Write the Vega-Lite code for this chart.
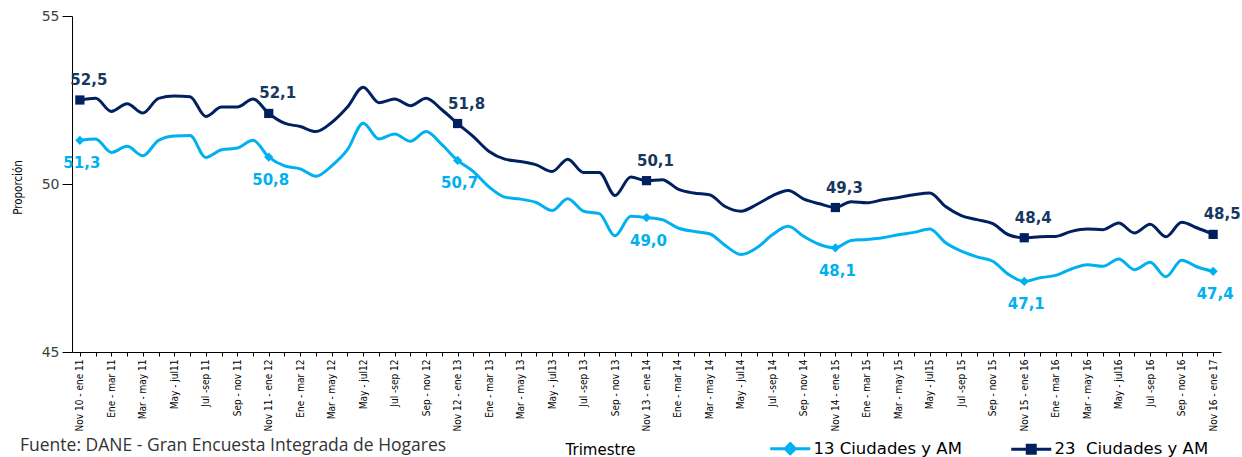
{
  "$schema": "https://vega.github.io/schema/vega-lite/v6.json",
  "width": 1149,
  "height": 336,
  "autosize": "none",
  "padding": {"left": 72, "top": 16, "right": 21, "bottom": 105},
  "background": "white",
  "config": {
    "view": {"stroke": null},
    "locale": {"number": {"decimal": ",", "thousands": ".", "grouping": [3], "currency": ["$", ""]}}
  },
  "title": {
    "text": "Fuente: DANE - Gran Encuesta Integrada de Hogares",
    "orient": "bottom",
    "anchor": "start",
    "frame": "group",
    "dx": -52,
    "offset": -23,
    "font": "Open Sans",
    "fontSize": 17.5,
    "fontWeight": "normal",
    "color": "#333333"
  },
  "data": {
    "values": [
      {"periodo": "Nov 10 - ene 11", "13 Ciudades y AM": 51.3, "23  Ciudades y AM": 52.5},
      {"periodo": "Dic 10 - feb 11", "13 Ciudades y AM": 51.34, "23  Ciudades y AM": 52.55},
      {"periodo": "Ene - mar 11", "13 Ciudades y AM": 50.94, "23  Ciudades y AM": 52.16},
      {"periodo": "Feb - abr 11", "13 Ciudades y AM": 51.12, "23  Ciudades y AM": 52.39},
      {"periodo": "Mar - may 11", "13 Ciudades y AM": 50.84, "23  Ciudades y AM": 52.11},
      {"periodo": "Abr - jun 11", "13 Ciudades y AM": 51.3, "23  Ciudades y AM": 52.55},
      {"periodo": "May - jul11", "13 Ciudades y AM": 51.43, "23  Ciudades y AM": 52.62},
      {"periodo": "Jun - ago 11", "13 Ciudades y AM": 51.44, "23  Ciudades y AM": 52.6},
      {"periodo": "Jul -sep 11", "13 Ciudades y AM": 50.79, "23  Ciudades y AM": 52.01},
      {"periodo": "Ago - oct 11", "13 Ciudades y AM": 51.02, "23  Ciudades y AM": 52.29},
      {"periodo": "Sep - nov 11", "13 Ciudades y AM": 51.07, "23  Ciudades y AM": 52.29},
      {"periodo": "Oct - dic 11", "13 Ciudades y AM": 51.3, "23  Ciudades y AM": 52.53},
      {"periodo": "Nov 11 - ene 12", "13 Ciudades y AM": 50.8, "23  Ciudades y AM": 52.1},
      {"periodo": "Dic 11 - feb 12", "13 Ciudades y AM": 50.54, "23  Ciudades y AM": 51.81},
      {"periodo": "Ene - mar 12", "13 Ciudades y AM": 50.45, "23  Ciudades y AM": 51.71},
      {"periodo": "Feb - abr 12", "13 Ciudades y AM": 50.23, "23  Ciudades y AM": 51.56},
      {"periodo": "Mar - may 12", "13 Ciudades y AM": 50.54, "23  Ciudades y AM": 51.83},
      {"periodo": "Abr - jun 12", "13 Ciudades y AM": 51.02, "23  Ciudades y AM": 52.29},
      {"periodo": "May - jul12", "13 Ciudades y AM": 51.81, "23  Ciudades y AM": 52.88},
      {"periodo": "Jun - ago 12", "13 Ciudades y AM": 51.34, "23  Ciudades y AM": 52.42},
      {"periodo": "Jul -sep 12", "13 Ciudades y AM": 51.49, "23  Ciudades y AM": 52.53},
      {"periodo": "Ago - oct 12", "13 Ciudades y AM": 51.27, "23  Ciudades y AM": 52.33},
      {"periodo": "Sep - nov 12", "13 Ciudades y AM": 51.56, "23  Ciudades y AM": 52.55},
      {"periodo": "Oct - dic 12", "13 Ciudades y AM": 51.17, "23  Ciudades y AM": 52.21},
      {"periodo": "Nov 12 - ene 13", "13 Ciudades y AM": 50.7, "23  Ciudades y AM": 51.8},
      {"periodo": "Dic 12 - feb 13", "13 Ciudades y AM": 50.37, "23  Ciudades y AM": 51.41},
      {"periodo": "Ene - mar 13", "13 Ciudades y AM": 49.91, "23  Ciudades y AM": 50.97},
      {"periodo": "Feb - abr 13", "13 Ciudades y AM": 49.61, "23  Ciudades y AM": 50.74},
      {"periodo": "Mar - may 13", "13 Ciudades y AM": 49.55, "23  Ciudades y AM": 50.67},
      {"periodo": "Abr - jun 13", "13 Ciudades y AM": 49.45, "23  Ciudades y AM": 50.57},
      {"periodo": "May - jul13", "13 Ciudades y AM": 49.21, "23  Ciudades y AM": 50.37},
      {"periodo": "Jun - ago 13", "13 Ciudades y AM": 49.56, "23  Ciudades y AM": 50.74},
      {"periodo": "Jul -sep 13", "13 Ciudades y AM": 49.19, "23  Ciudades y AM": 50.34},
      {"periodo": "Ago - oct 13", "13 Ciudades y AM": 49.12, "23  Ciudades y AM": 50.34},
      {"periodo": "Sep - nov 13", "13 Ciudades y AM": 48.46, "23  Ciudades y AM": 49.66},
      {"periodo": "Oct - dic 13", "13 Ciudades y AM": 49.04, "23  Ciudades y AM": 50.21},
      {"periodo": "Nov 13 - ene 14", "13 Ciudades y AM": 49.0, "23  Ciudades y AM": 50.1},
      {"periodo": "Dic 13 - feb 14", "13 Ciudades y AM": 48.94, "23  Ciudades y AM": 50.13},
      {"periodo": "Ene - mar 14", "13 Ciudades y AM": 48.69, "23  Ciudades y AM": 49.85},
      {"periodo": "Feb - abr 14", "13 Ciudades y AM": 48.59, "23  Ciudades y AM": 49.73},
      {"periodo": "Mar - may 14", "13 Ciudades y AM": 48.52, "23  Ciudades y AM": 49.68},
      {"periodo": "Abr - jun 14", "13 Ciudades y AM": 48.17, "23  Ciudades y AM": 49.33},
      {"periodo": "May - jul14", "13 Ciudades y AM": 47.9, "23  Ciudades y AM": 49.19},
      {"periodo": "Jun - ago 14", "13 Ciudades y AM": 48.1, "23  Ciudades y AM": 49.39},
      {"periodo": "Jul -sep 14", "13 Ciudades y AM": 48.49, "23  Ciudades y AM": 49.65},
      {"periodo": "Ago - oct 14", "13 Ciudades y AM": 48.74, "23  Ciudades y AM": 49.81},
      {"periodo": "Sep - nov 14", "13 Ciudades y AM": 48.44, "23  Ciudades y AM": 49.55},
      {"periodo": "Oct - dic 14", "13 Ciudades y AM": 48.2, "23  Ciudades y AM": 49.41},
      {"periodo": "Nov 14 - ene 15", "13 Ciudades y AM": 48.1, "23  Ciudades y AM": 49.3},
      {"periodo": "Dic 14 - feb 15", "13 Ciudades y AM": 48.32, "23  Ciudades y AM": 49.47},
      {"periodo": "Ene - mar 15", "13 Ciudades y AM": 48.35, "23  Ciudades y AM": 49.44},
      {"periodo": "Feb - abr 15", "13 Ciudades y AM": 48.4, "23  Ciudades y AM": 49.53},
      {"periodo": "Mar - may 15", "13 Ciudades y AM": 48.49, "23  Ciudades y AM": 49.6},
      {"periodo": "Abr - jun 15", "13 Ciudades y AM": 48.56, "23  Ciudades y AM": 49.68},
      {"periodo": "May - jul15", "13 Ciudades y AM": 48.66, "23  Ciudades y AM": 49.73},
      {"periodo": "Jun - ago 15", "13 Ciudades y AM": 48.25, "23  Ciudades y AM": 49.33},
      {"periodo": "Jul -sep 15", "13 Ciudades y AM": 48.0, "23  Ciudades y AM": 49.06},
      {"periodo": "Ago - oct 15", "13 Ciudades y AM": 47.83, "23  Ciudades y AM": 48.94},
      {"periodo": "Sep - nov 15", "13 Ciudades y AM": 47.7, "23  Ciudades y AM": 48.82},
      {"periodo": "Oct - dic 15", "13 Ciudades y AM": 47.31, "23  Ciudades y AM": 48.49},
      {"periodo": "Nov 15 - ene 16", "13 Ciudades y AM": 47.1, "23  Ciudades y AM": 48.4},
      {"periodo": "Dic 15 - feb 16", "13 Ciudades y AM": 47.21, "23  Ciudades y AM": 48.43},
      {"periodo": "Ene - mar 16", "13 Ciudades y AM": 47.28, "23  Ciudades y AM": 48.44},
      {"periodo": "Feb - abr 16", "13 Ciudades y AM": 47.47, "23  Ciudades y AM": 48.59},
      {"periodo": "Mar - may 16", "13 Ciudades y AM": 47.6, "23  Ciudades y AM": 48.66},
      {"periodo": "Abr - jun 16", "13 Ciudades y AM": 47.55, "23  Ciudades y AM": 48.64},
      {"periodo": "May - jul16", "13 Ciudades y AM": 47.77, "23  Ciudades y AM": 48.84},
      {"periodo": "Jun - ago 16", "13 Ciudades y AM": 47.45, "23  Ciudades y AM": 48.54},
      {"periodo": "Jul -sep 16", "13 Ciudades y AM": 47.67, "23  Ciudades y AM": 48.8},
      {"periodo": "Ago - oct 16", "13 Ciudades y AM": 47.24, "23  Ciudades y AM": 48.43},
      {"periodo": "Sep - nov 16", "13 Ciudades y AM": 47.73, "23  Ciudades y AM": 48.86},
      {"periodo": "Oct - dic 16", "13 Ciudades y AM": 47.53, "23  Ciudades y AM": 48.69},
      {"periodo": "Nov 16 - ene 17", "13 Ciudades y AM": 47.4, "23  Ciudades y AM": 48.5}
    ]
  },
  "transform": [{"fold": ["13 Ciudades y AM", "23  Ciudades y AM"], "as": ["serie", "valor"]}],
  "encoding": {
    "x": {
      "field": "periodo",
      "type": "ordinal",
      "sort": null,
      "scale": {"type": "point", "padding": 0.5},
      "axis": {
        "title": "Trimestre",
        "labelAngle": -90,
        "labelAlign": "right",
        "labelBaseline": "middle",
        "labelFont": "DejaVu Sans Condensed, Liberation Sans, sans-serif",
        "labelFontSize": 10,
        "labelColor": "#000000",
        "labelPadding": 3,
        "labelOverlap": false,
        "labelExpr": "test(regexp('^(Nov|Ene|Mar|May|Jul|Sep)'), datum.label) ? datum.label : ''",
        "tickSize": 4,
        "tickColor": "#000000",
        "domainColor": "#000000",
        "grid": false,
        "titleFont": "DejaVu Sans",
        "titleFontSize": 15,
        "titleFontWeight": "normal",
        "titleColor": "#000000",
        "titleX": 528,
        "titleY": 97,
        "titleBaseline": "middle"
      }
    },
    "y": {
      "field": "valor",
      "type": "quantitative",
      "scale": {"domain": [45, 55], "nice": false, "zero": false},
      "axis": {
        "values": [45, 50, 55],
        "title": "Proporción",
        "grid": false,
        "domainColor": "#000000",
        "tickColor": "#000000",
        "tickSize": 10,
        "labelPadding": 3,
        "labelFont": "DejaVu Sans",
        "labelFontSize": 14,
        "labelColor": "#404040",
        "titleFont": "DejaVu Sans Condensed, Liberation Sans, sans-serif",
        "titleFontSize": 11.5,
        "titleFontWeight": "normal",
        "titleColor": "#000000",
        "titleX": -54,
        "titleY": 171,
        "titleAngle": -90,
        "titleAlign": "center",
        "titleBaseline": "middle"
      }
    },
    "color": {
      "field": "serie",
      "type": "nominal",
      "scale": {"domain": ["13 Ciudades y AM", "23  Ciudades y AM"], "range": ["#00b0f0", "#002060"]},
      "legend": {
        "title": null,
        "orient": "none",
        "legendX": 710,
        "legendY": 424,
        "direction": "horizontal",
        "columns": 2,
        "columnPadding": 43,
        "symbolSize": 100,
        "symbolStrokeWidth": 3,
        "labelOffset": 15,
        "labelFont": "DejaVu Sans",
        "labelFontSize": 16.5,
        "labelColor": "#000000",
        "labelLimit": 300,
        "labelExpr": "datum.label === '23  Ciudades y AM' ? '23\u00a0 Ciudades y AM' : datum.label",
        "padding": 0
      }
    }
  },
  "layer": [
    {"mark": {"type": "line", "interpolate": "monotone", "strokeWidth": 3}},
    {
      "transform": [{"filter": "indexof(datum.periodo, 'Nov') === 0"}],
      "mark": {"type": "point", "filled": true, "opacity": 1, "size": 85},
      "encoding": {
        "shape": {"condition": {"test": "datum.serie === '13 Ciudades y AM'", "value": "diamond"}, "value": "square"}
      }
    },
    {
      "transform": [{"filter": "false"}],
      "mark": {"type": "point", "filled": false, "strokeWidth": 3},
      "encoding": {
        "shape": {
          "field": "serie",
          "type": "nominal",
          "scale": {
            "domain": ["13 Ciudades y AM", "23  Ciudades y AM"],
            "range": ["M-4,0H4M0,-1L1,0L0,1L-1,0Z", "M-4,0H4M-0.8,-0.8H0.8V0.8H-0.8Z"]
          },
          "legend": {
            "title": null,
            "orient": "none",
            "legendX": 710,
            "legendY": 424,
            "direction": "horizontal",
            "columns": 2,
            "columnPadding": 43,
            "symbolSize": 100,
            "symbolStrokeWidth": 3,
            "labelOffset": 15,
            "labelFont": "DejaVu Sans",
            "labelFontSize": 16.5,
            "labelColor": "#000000",
            "labelLimit": 300,
            "labelExpr": "datum.label === '23  Ciudades y AM' ? '23\u00a0 Ciudades y AM' : datum.label",
            "padding": 0
          }
        }
      }
    },
    {
      "transform": [{"filter": "indexof(datum.periodo, 'Nov') === 0 && datum.serie === '23  Ciudades y AM'"}],
      "mark": {"type": "text", "dx": 9, "dy": -20, "font": "DejaVu Sans", "fontSize": 15, "fontWeight": "bold"},
      "encoding": {
        "text": {"field": "valor", "type": "quantitative", "format": ".1f"},
        "color": {"value": "#17375e"}
      }
    },
    {
      "transform": [{"filter": "indexof(datum.periodo, 'Nov') === 0 && datum.serie === '13 Ciudades y AM'"}],
      "mark": {"type": "text", "dx": 2, "dy": 23, "font": "DejaVu Sans", "fontSize": 15, "fontWeight": "bold"},
      "encoding": {
        "text": {"field": "valor", "type": "quantitative", "format": ".1f"},
        "color": {"value": "#00b0f0"}
      }
    }
  ]
}
